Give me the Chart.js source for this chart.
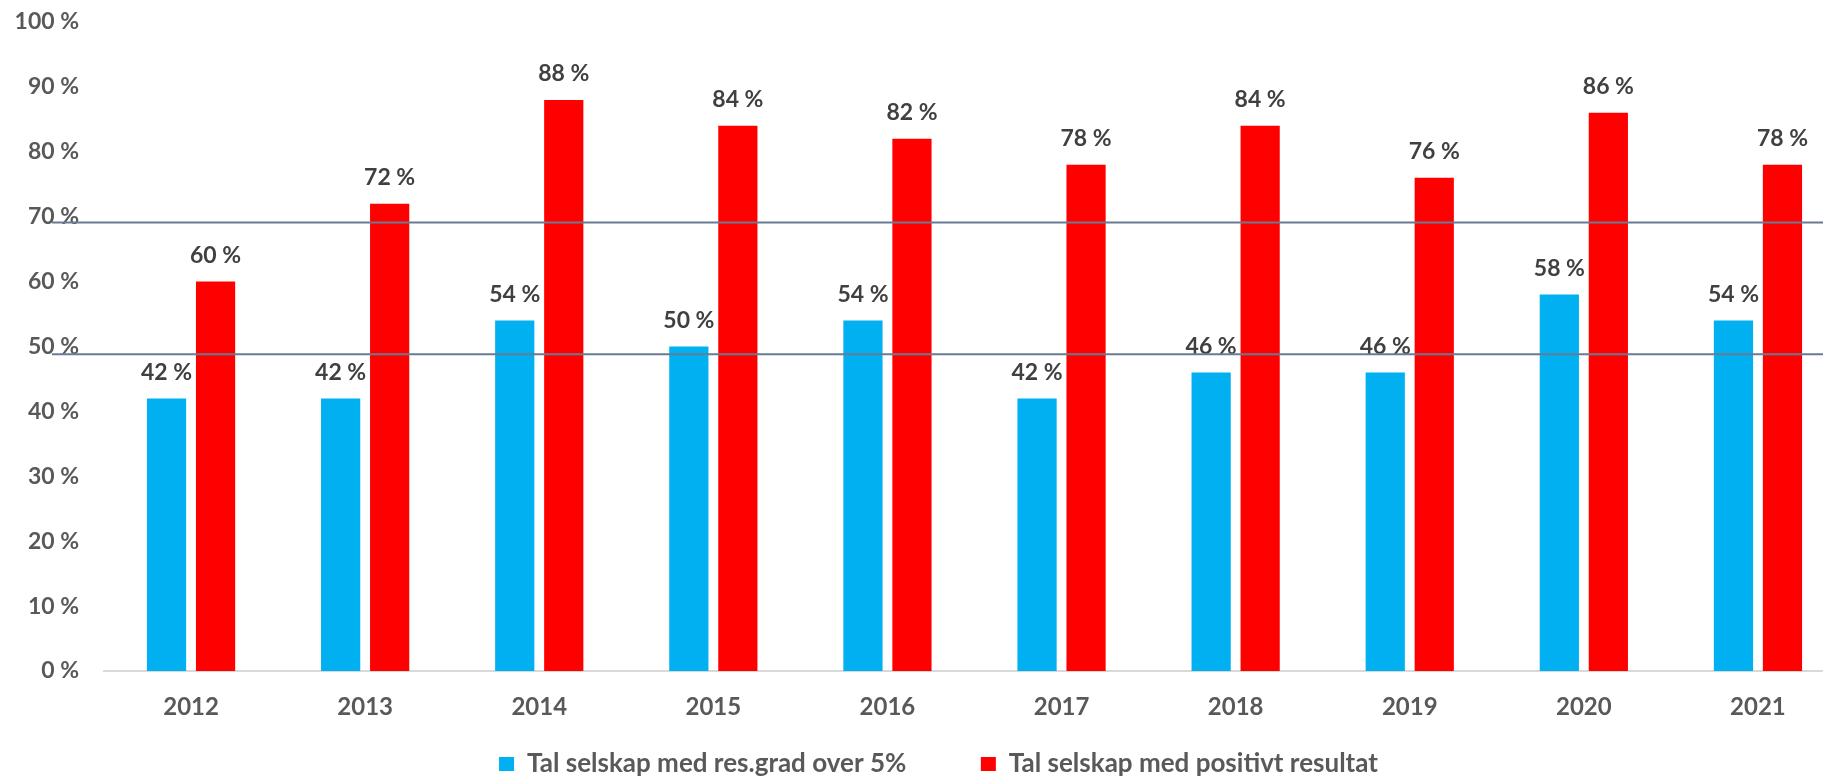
<!DOCTYPE html>
<html>
<head>
<meta charset="utf-8">
<script src="https://cdn.jsdelivr.net/npm/chart.js@4/dist/chart.umd.min.js"></script>
<style>
  html, body { margin: 0; padding: 0; background: #ffffff; overflow: hidden; }
  #wrap { position: absolute; left: 0; top: 0; width: 1879px; height: 787px; }
</style>
</head>
<body>
<div id="wrap"><canvas id="chart"></canvas></div>
<script>
// Years on the x axis
const years = ['2012', '2013', '2014', '2015', '2016', '2017', '2018', '2019', '2020', '2021'];

// Share of companies with profit margin above 5 % (percent)
const overFivePct = [42, 42, 54, 50, 54, 42, 46, 46, 58, 54];

// Share of companies with a positive result (percent)
const positiveResult = [60, 72, 88, 84, 82, 78, 84, 76, 86, 78];

// Series names shown in the legend
const seriesNames = ['Tal selskap med res.grad over 5%', 'Tal selskap med positivt resultat'];

// Y axis tick values
const yTicks = [0, 10, 20, 30, 40, 50, 60, 70, 80, 90, 100];

// Horizontal guide lines (percent)
const guideLines = [69.1, 48.8];

const FONT = 'Lato, "Open Sans", sans-serif';

// Writes the value above each bar
const valueLabels = {
  id: 'valueLabels',
  afterDatasetsDraw(chart) {
    const ctx = chart.ctx;
    ctx.save();
    ctx.font = 'bold 23px ' + FONT;
    ctx.fillStyle = '#404040';
    ctx.textAlign = 'center';
    ctx.textBaseline = 'middle';
    chart.data.datasets.forEach((ds, i) => {
      const meta = chart.getDatasetMeta(i);
      meta.data.forEach((bar, j) => {
        ctx.fillText(ds.data[j] + ' %', bar.x, bar.y - 26);
      });
    });
    ctx.restore();
  }
};

// Draws the horizontal guide lines across the plot
const guides = {
  id: 'guides',
  afterDraw(chart) {
    const ctx = chart.ctx;
    const y = chart.scales.y;
    ctx.save();
    ctx.strokeStyle = '#687b92';
    ctx.lineWidth = 2;
    guideLines.forEach(v => {
      const py = y.getPixelForValue(v);
      ctx.beginPath();
      ctx.moveTo(chart.chartArea.left - 52, py);
      ctx.lineTo(chart.width, py);
      ctx.stroke();
    });
    ctx.restore();
  }
};

// Nudges the legend block a little to the right
const legendInset = {
  id: 'legendInset',
  afterLayout(chart) {
    if (chart.legend) chart.legend.left += 32;
  }
};

new Chart(document.getElementById('chart'), {
  type: 'bar',
  data: {
    labels: years,
    datasets: [
      {
        label: seriesNames[0],
        data: overFivePct,
        backgroundColor: '#00b0f0',
        barPercentage: 0.8,
        categoryPercentage: 0.563
      },
      {
        label: seriesNames[1],
        data: positiveResult,
        backgroundColor: '#ff0000',
        barPercentage: 0.8,
        categoryPercentage: 0.563
      }
    ]
  },
  options: {
    responsive: true,
    maintainAspectRatio: false,
    devicePixelRatio: 1,
    animation: false,
    layout: { padding: { top: 22, right: 34, left: 0, bottom: 0 } },
    plugins: {
      tooltip: { enabled: false },
      legend: {
        position: 'bottom',
        labels: {
          color: '#595959',
          font: { family: FONT, size: 26, weight: 'bold' },
          boxWidth: 15,
          boxHeight: 14,
          padding: 24,
          // wider gap between the two legend entries
          generateLabels(chart) {
            const items = Chart.defaults.plugins.legend.labels.generateLabels(chart);
            items.forEach((it, i) => {
              if (i < items.length - 1) it.text += '        ';
            });
            return items;
          }
        }
      }
    },
    scales: {
      x: {
        grid: { display: false, drawTicks: false },
        border: { display: true, color: '#d9d9d9', width: 2 },
        ticks: {
          color: '#595959',
          font: { family: FONT, size: 24, weight: 'bold' },
          padding: 22
        },
        afterFit(scale) { scale.height = 56; }
      },
      y: {
        min: 0,
        max: 100,
        grid: { display: false, drawTicks: true, tickLength: 25 },
        border: { display: false },
        afterBuildTicks(scale) { scale.ticks = yTicks.map(v => ({ value: v })); },
        ticks: {
          color: '#595959',
          font: { family: FONT, size: 23, weight: 'bold' },
          padding: 0,
          callback: v => v + ' %'
        },
        afterFit(scale) { scale.width = 104; }
      }
    }
  },
  plugins: [valueLabels, guides, legendInset]
});
</script>
</body>
</html>
